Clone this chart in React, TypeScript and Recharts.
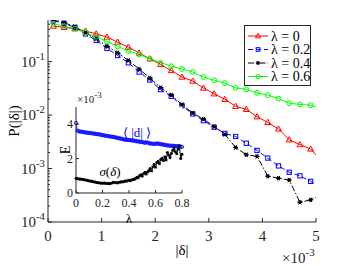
import { LineChart, Line, XAxis, YAxis, Legend, CartesianGrid } from "recharts";

const X_DELTA = [0.1, 0.3, 0.5, 0.7, 0.9, 1.1, 1.3, 1.5, 1.7, 1.9, 2.1, 2.3, 2.5, 2.7, 2.9, 3.1, 3.3, 3.5, 3.7, 3.9, 4.1, 4.3, 4.5, 4.7, 4.9, 5.1];
const P_L0 = [0.461, 0.436, 0.412, 0.372, 0.332, 0.287, 0.231, 0.186, 0.145, 0.113, 0.0883, 0.0681, 0.0514, 0.0433, 0.032, 0.025, 0.0197, 0.0146, 0.0128, 0.0093, 0.0073, 0.0055, 0.00345, 0.0028, 0.00232, 0.0014];
const P_L02 = [0.578, 0.519, 0.436, 0.329, 0.249, 0.176, 0.13, 0.0949, 0.0638, 0.0452, 0.03, 0.0224, 0.015, 0.0105, 0.00785, 0.00593, 0.00454, 0.00398, 0.00297, 0.00218, 0.00157, 0.00112, 0.00085, 0.00073, 0.000575, 0.00045];
const P_L04 = [0.598, 0.535, 0.45, 0.347, 0.268, 0.195, 0.146, 0.105, 0.0726, 0.0492, 0.0327, 0.0236, 0.0157, 0.0109, 0.0084, 0.0061, 0.00435, 0.00248, 0.00181, 0.00169, 0.00072, 0.00066, 0.00061, 0.000234, 0.000259, 0.00032];
const P_L06 = [0.508, 0.461, 0.412, 0.347, 0.292, 0.238, 0.192, 0.158, 0.136, 0.113, 0.0962, 0.082, 0.0727, 0.0638, 0.0514, 0.0448, 0.0396, 0.0322, 0.0303, 0.026, 0.0236, 0.0203, 0.0167, 0.0158, 0.0153, 0.013];

const X_TICKS = [0, 1, 2, 3, 4, 5];
const Y_MAJOR = [1e-4, 1e-3, 1e-2, 1e-1];
const MINOR_MULT = [2, 3, 4, 5, 6, 7, 8, 9];

// inset
const LAMBDA = [0, 0.01, 0.02, 0.03, 0.04, 0.05, 0.06, 0.07, 0.08, 0.09, 0.1, 0.11, 0.12, 0.13, 0.14, 0.15, 0.16, 0.17, 0.18, 0.19, 0.2, 0.21, 0.22, 0.23, 0.24, 0.25, 0.26, 0.27, 0.28, 0.29, 0.3, 0.31, 0.32, 0.33, 0.34, 0.35, 0.36, 0.37, 0.38, 0.39, 0.4, 0.41, 0.42, 0.43, 0.44, 0.45, 0.46, 0.47, 0.48, 0.49, 0.5, 0.51, 0.52, 0.53, 0.54, 0.55, 0.56, 0.57, 0.58, 0.59, 0.6, 0.61, 0.62, 0.63, 0.64, 0.65, 0.66, 0.67, 0.68, 0.69, 0.7, 0.71, 0.72, 0.73, 0.74, 0.75, 0.76, 0.77, 0.78, 0.79, 0.8];
const D_MEAN = [4.07, 3.62, 3.59, 3.57, 3.56, 3.55, 3.54, 3.52, 3.51, 3.5, 3.49, 3.49, 3.47, 3.46, 3.45, 3.43, 3.42, 3.42, 3.4, 3.38, 3.37, 3.35, 3.33, 3.32, 3.31, 3.3, 3.28, 3.27, 3.26, 3.25, 3.23, 3.21, 3.19, 3.17, 3.16, 3.14, 3.12, 3.1, 3.09, 3.09, 3.08, 3.07, 3.06, 3.04, 3.05, 3.02, 3.0, 3.01, 2.98, 2.96, 2.97, 2.94, 2.92, 2.95, 2.93, 2.9, 2.88, 2.87, 2.86, 2.85, 2.86, 2.88, 2.87, 2.85, 2.84, 2.83, 2.81, 2.8, 2.78, 2.77, 2.76, 2.75, 2.74, 2.75, 2.73, 2.72, 2.73, 2.71, 2.7, 2.69, 2.68];
const SIGMA = [0.85, 0.84, 0.82, 0.8, 0.81, 0.78, 0.77, 0.76, 0.74, 0.72, 0.7, 0.69, 0.68, 0.66, 0.64, 0.62, 0.6, 0.6, 0.58, 0.57, 0.56, 0.58, 0.57, 0.55, 0.56, 0.54, 0.55, 0.58, 0.61, 0.62, 0.6, 0.58, 0.61, 0.63, 0.65, 0.64, 0.66, 0.7, 0.68, 0.72, 0.74, 0.71, 0.76, 0.8, 0.78, 0.86, 0.92, 0.88, 1.0, 1.06, 0.98, 1.12, 1.2, 1.1, 1.22, 1.3, 1.42, 1.28, 1.52, 1.66, 1.5, 1.78, 1.84, 1.7, 1.95, 2.02, 1.88, 2.1, 1.92, 2.35, 2.2, 2.05, 2.3, 2.48, 2.62, 2.4, 2.28, 2.55, 2.75, 2.0, 2.25];
const INSET_X_TICKS = [0, 0.2, 0.4, 0.6, 0.8];
const INSET_Y_TICKS = [0, 2, 4];

const AX = "#262626";
const FONT = "'Liberation Serif', 'Times New Roman', serif";

const SERIES = [
  { key: "l0", name: "λ = 0", color: "#ff0000", dash: undefined, marker: "tri" },
  { key: "l02", name: "λ = 0.2", color: "#0000ff", dash: "5 3", marker: "sq" },
  { key: "l04", name: "λ = 0.4", color: "#000000", dash: "6 2 1.5 2", marker: "star" },
  { key: "l06", name: "λ = 0.6", color: "#00ff00", dash: undefined, marker: "circ" },
];

const mainData = X_DELTA.map((x, i) => ({ x, l0: P_L0[i], l02: P_L02[i], l04: P_L04[i], l06: P_L06[i] }));
const insetData = LAMBDA.map((x, i) => ({ x, d: D_MEAN[i], s: SIGMA[i] }));

const Y_MINOR: number[] = [];
[1e-4, 1e-3, 1e-2, 1e-1].forEach((d) => MINOR_MULT.forEach((m) => { if (d * m <= 0.6) Y_MINOR.push(d * m); }));
const Y_TICKS = [...Y_MAJOR, ...Y_MINOR].sort((a, b) => a - b);

function marker(kind: string, color: string, cx: number, cy: number, s = 1, k?: any) {
  if (kind === "tri")
    return <path key={k} d={`M${cx},${cy - 3.8 * s}L${cx + 3.6 * s},${cy + 2.6 * s}L${cx - 3.6 * s},${cy + 2.6 * s}Z`} fill="none" stroke={color} strokeWidth={1} />;
  if (kind === "sq")
    return <rect key={k} x={cx - 2.6 * s} y={cy - 2.6 * s} width={5.2 * s} height={5.2 * s} fill="none" stroke={color} strokeWidth={1} />;
  if (kind === "circ")
    return <circle key={k} cx={cx} cy={cy} r={3 * s} fill="none" stroke={color} strokeWidth={s < 0.7 ? 0.8 : 1} />;
  const r = 3.2 * s;
  return (
    <g key={k}>
      <circle cx={cx} cy={cy} r={2 * s} fill={color} />
      <line x1={cx - r} x2={cx + r} y1={cy} y2={cy} stroke={color} />
      <line x1={cx - r * 0.5} x2={cx + r * 0.5} y1={cy - r * 0.87} y2={cy + r * 0.87} stroke={color} />
      <line x1={cx + r * 0.5} x2={cx - r * 0.5} y1={cy - r * 0.87} y2={cy + r * 0.87} stroke={color} />
    </g>
  );
}

const dotFor = (kind: string, color: string, s = 1) => (p: any) => {
  if (p.cx == null || p.cy == null) return <g key={p.index} />;
  return marker(kind, color, p.cx, p.cy, s, p.index);
};

function Pow10({ x, y, anchor, exp, size }: any) {
  return (
    <text x={x} y={y} textAnchor={anchor} fontSize={size} fontFamily={FONT} fill={AX}>
      10<tspan dy={-size * 0.45} fontSize={size * 0.72}>{exp}</tspan>
    </text>
  );
}

const BottomTick = (len: number, size: number, off: number) => (p: any) => (
  <g>
    <line x1={p.x} x2={p.x} y1={p.y} y2={p.y - len} stroke={AX} />
    <text x={p.x} y={p.y + off} textAnchor="middle" fontSize={size} fontFamily={FONT} fill={AX}>
      {p.payload.value}
    </text>
  </g>
);
const TopTick = (len: number) => (p: any) => <line x1={p.x} x2={p.x} y1={p.y} y2={p.y + len} stroke={AX} />;

const LogLeftTick = (p: any) => {
  const v = p.payload.value;
  const major = Y_MAJOR.some((m) => Math.abs(m - v) < m * 1e-6);
  return (
    <g>
      <line x1={p.x} x2={p.x + (major ? 4 : 2)} y1={p.y} y2={p.y} stroke={AX} />
      {major && <Pow10 x={p.x - 3} y={p.y + 5} anchor="end" exp={`-${-Math.round(Math.log10(v))}`} size={15} />}
    </g>
  );
};
const LogRightTick = (p: any) => {
  const v = p.payload.value;
  const major = Y_MAJOR.some((m) => Math.abs(m - v) < m * 1e-6);
  return <line x1={p.x} x2={p.x - (major ? 4 : 2)} y1={p.y} y2={p.y} stroke={AX} />;
};

const InsetLeftTick = (p: any) => (
  <g>
    <line x1={p.x} x2={p.x + 3} y1={p.y} y2={p.y} stroke={AX} />
    <text x={p.x - 3} y={p.y + 4} textAnchor="end" fontSize={12} fontFamily={FONT} fill={AX}>{p.payload.value}</text>
  </g>
);
const InsetRightTick = (p: any) => <line x1={p.x} x2={p.x - 3} y1={p.y} y2={p.y} stroke={AX} />;

function LegendBox() {
  return (
    <svg width={68} height={62} style={{ display: "block" }}>
      <rect x={0.5} y={0.5} width={66} height={60} fill="#fff" stroke={AX} />
      {SERIES.map((s, i) => {
        const y = 11 + i * 13.5;
        return (
          <g key={s.key}>
            <line x1={4} x2={24} y1={y} y2={y} stroke={s.color} strokeDasharray={s.dash} />
            {marker(s.marker, s.color, 14, y, 0.7)}
            <text x={27} y={y + 4.5} fontSize={14} fontFamily={FONT} fill="#000">{s.name}</text>
          </g>
        );
      })}
    </svg>
  );
}

export default function App() {
  return (
    <div style={{ position: "fixed", left: 0, top: 0, width: 349, height: 266, background: "#fff" }}>
      <div style={{ position: "absolute", left: 0, top: 0 }}>
        <LineChart width={349} height={266} data={mainData} margin={{ top: 20, right: 33, left: 0, bottom: 0 }}>
          <XAxis dataKey="x" type="number" domain={[0, 5]} ticks={X_TICKS} allowDataOverflow height={44}
            stroke={AX} tickLine={false} tickSize={0} tickMargin={0} interval={0} tick={BottomTick(4, 15, 19)} />
          <XAxis xAxisId="top" orientation="top" dataKey="x" type="number" domain={[0, 5]} ticks={X_TICKS} allowDataOverflow height={0}
            stroke={AX} tickLine={false} tickSize={0} tickMargin={0} interval={0} tick={TopTick(4)} />
          <YAxis type="number" scale="log" domain={[1e-4, 0.6]} ticks={Y_TICKS} allowDataOverflow width={48}
            stroke={AX} tickLine={false} tickSize={0} tickMargin={0} interval={0} tick={LogLeftTick} />
          <YAxis yAxisId="right" orientation="right" type="number" scale="log" domain={[1e-4, 0.6]} ticks={Y_TICKS} allowDataOverflow width={0}
            stroke={AX} tickLine={false} tickSize={0} tickMargin={0} interval={0} tick={LogRightTick} />
          <Line xAxisId="top" yAxisId="right" dataKey="l0" stroke="none" dot={false} isAnimationActive={false} legendType="none" />
          {SERIES.map((s) => (
            <Line key={s.key} dataKey={s.key} name={s.name} stroke={s.color} strokeWidth={1} strokeDasharray={s.dash}
              dot={dotFor(s.marker, s.color, 0.82)} activeDot={false} isAnimationActive={false} />
          ))}
          <Legend layout="vertical" align="center" verticalAlign="middle" content={() => <LegendBox />}
            wrapperStyle={{ left: 244, top: 25, width: 68, height: 62 }} />
          <text x={14} y={121} transform="rotate(-90 14 121)" textAnchor="middle" dominantBaseline="central" fontSize={15} fontFamily={FONT} fill="#000">P(|δ|)</text>
          <text x={182} y={255} textAnchor="middle" fontSize={15} fontFamily={FONT} fill="#000">|δ|</text>
          <text x={282} y={263} fontSize={15} fontFamily={FONT} fill={AX}>×10<tspan dy={-7} fontSize={11}>-3</tspan></text>
        </LineChart>
      </div>
      <div style={{ position: "absolute", left: 56, top: 82 }}>
        <LineChart width={136} height={145} data={insetData} margin={{ top: 25, right: 10, left: 0, bottom: 0 }}>
          <CartesianGrid horizontal={false} vertical={false} fill="#fff" fillOpacity={1} />
          <XAxis dataKey="x" type="number" domain={[0, 0.8]} ticks={INSET_X_TICKS} height={34}
            stroke={AX} tickLine={false} tickSize={0} tickMargin={0} interval={0} tick={BottomTick(3, 12, 14)} />
          <XAxis xAxisId="top" orientation="top" dataKey="x" type="number" domain={[0, 0.8]} ticks={INSET_X_TICKS} height={0}
            stroke={AX} tickLine={false} tickSize={0} tickMargin={0} interval={0} tick={TopTick(3)} />
          <YAxis type="number" domain={[0, 5]} ticks={INSET_Y_TICKS} width={20}
            stroke={AX} tickLine={false} tickSize={0} tickMargin={0} interval={0} tick={InsetLeftTick} />
          <YAxis yAxisId="right" orientation="right" type="number" domain={[0, 5]} ticks={INSET_Y_TICKS} width={0}
            stroke={AX} tickLine={false} tickSize={0} tickMargin={0} interval={0} tick={InsetRightTick} />
          <Line xAxisId="top" yAxisId="right" dataKey="d" stroke="none" dot={false} isAnimationActive={false} legendType="none" />
          <Line dataKey="d" stroke="#0000ff" strokeWidth={0.8} dot={dotFor("circ", "#0000ff", 0.55)} activeDot={false} isAnimationActive={false} />
          <Line dataKey="s" stroke="#000" strokeWidth={1} dot={dotFor("star", "#000", 0.5)} activeDot={false} isAnimationActive={false} />
          <text x={21} y={21} fontSize={11} fontFamily={FONT} fill={AX}>×10<tspan dy={-5} fontSize={9}>-3</tspan></text>
          <text x={9} y={68} transform="rotate(-90 9 68)" textAnchor="middle" dominantBaseline="central" fontSize={14} fontFamily={FONT} fill="#000">E</text>
          <text x={73} y={141} textAnchor="middle" fontSize={13} fontFamily={FONT} fill="#000">λ</text>
          <text x={81} y={55} textAnchor="middle" fontSize={13} fontFamily={FONT} fill="#0000ff">⟨ |d| ⟩</text>
          <text x={54} y={94} textAnchor="middle" fontSize={13} fontFamily={FONT} fill="#000"><tspan fontStyle="italic">σ</tspan>(<tspan fontStyle="italic">δ</tspan>)</text>
        </LineChart>
      </div>
    </div>
  );
}
